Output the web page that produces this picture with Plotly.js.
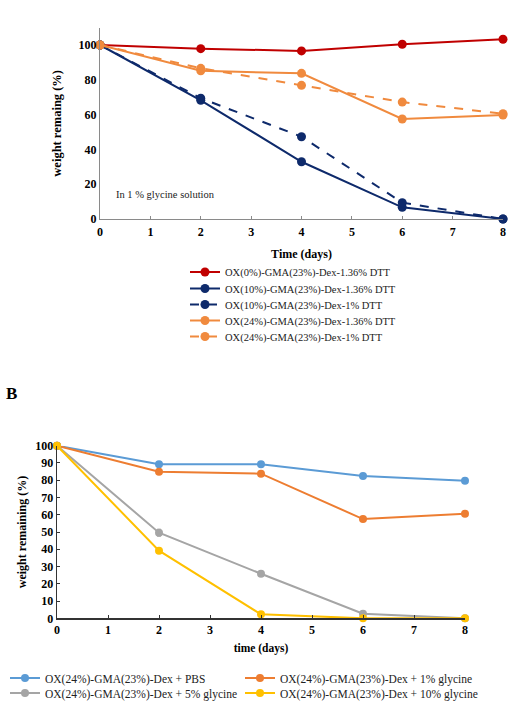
<!DOCTYPE html>
<html>
<head>
<meta charset="utf-8">
<script src="https://cdn.plot.ly/plotly-3.0.1.min.js"></script>
<style>html,body{margin:0;padding:0;background:#fff}#chart{width:515px;height:701px}</style>
</head>
<body>
<div id="chart"></div>
<script>
// ---------- Panel A data ----------
const daysA = [0, 2, 4, 6, 8];
const namesA = [
  "OX(0%)-GMA(23%)-Dex-1.36% DTT",
  "OX(10%)-GMA(23%)-Dex-1.36% DTT",
  "OX(10%)-GMA(23%)-Dex-1% DTT",
  "OX(24%)-GMA(23%)-Dex-1.36% DTT",
  "OX(24%)-GMA(23%)-Dex-1% DTT"
];
const ox0_136 = [100, 97.9, 96.6, 100.4, 103.3];
const ox10_136 = [100, 68.2, 32.9, 6.7, 0];
const ox10_1 = [100, 69.4, 47.3, 9.4, 0];
const ox24_136 = [100, 85.2, 83.7, 57.5, 59.8];
const ox24_1 = [100, 86.6, 76.8, 67.2, 60.5];
const xTicksA = [0, 1, 2, 3, 4, 5, 6, 7, 8];
const yTicksA = [0, 20, 40, 60, 80, 100];

// ---------- Panel B data ----------
const daysB = [0, 2, 4, 6, 8];
const namesB = [
  "OX(24%)-GMA(23%)-Dex + PBS",
  "OX(24%)-GMA(23%)-Dex + 1% glycine",
  "OX(24%)-GMA(23%)-Dex + 5% glycine",
  "OX(24%)-GMA(23%)-Dex + 10% glycine"
];
const pbs = [100, 89.2, 89.2, 82.4, 79.7];
const gly1 = [100, 84.9, 83.8, 57.5, 60.6];
const gly5 = [100, 49.6, 25.8, 2.7, 0];
const gly5err = [0, 2, 0.8, 0, 0];
const gly10 = [100, 39.2, 2.3, 0, 0];
const xTicksB = [0, 1, 2, 3, 4, 5, 6, 7, 8];
const yTicksB = [0, 10, 20, 30, 40, 50, 60, 70, 80, 90, 100];

const W = 515, H = 701;
const px = v => v / W;
const py = v => 1 - v / H;
const SERIF = "Liberation Serif, Times New Roman, serif";

const colA = ["#C00000", "#0E2A6B", "#0E2A6B", "#F08A3E", "#F08A3E"];
const dashA = ["solid", "solid", "dash", "solid", "dash"];
const seriesA = [ox0_136, ox10_136, ox10_1, ox24_136, ox24_1];
// legend entry positions (pixels)
const legYA = [272, 288.5, 304.5, 320.5, 336.5];
const legB = [[5, 678], [240, 678], [5, 693], [240, 693]];

const traces = [];
const legends = {};
seriesA.forEach((ys, i) => {
  const lid = i === 0 ? "legend" : "legend" + (i + 1);
  traces.push({
    x: daysA, y: ys, name: namesA[i], type: "scatter", mode: "lines+markers",
    xaxis: "x", yaxis: "y", legend: lid, showlegend: true, cliponaxis: false,
    line: {color: colA[i], width: 2, dash: dashA[i]},
    marker: {color: colA[i], size: 9}
  });
  legends[lid] = {
    visible: true,
    x: px(185), y: py(legYA[i]), xanchor: "left", yanchor: "middle",
    bgcolor: "rgba(0,0,0,0)", borderwidth: 0,
    font: {family: SERIF, size: 10.5, color: "#222"}, itemwidth: 30
  };
});

const colB = ["#5B9BD5", "#ED7D31", "#A5A5A5", "#FFC000"];
const seriesB = [pbs, gly1, gly5, gly10];
seriesB.forEach((ys, i) => {
  const lid = "legend" + (i + 6);
  const t = {
    x: daysB, y: ys, name: namesB[i], type: "scatter", mode: "lines+markers",
    xaxis: "x2", yaxis: "y2", legend: lid, showlegend: true, cliponaxis: false,
    line: {color: colB[i], width: 2},
    marker: {color: colB[i], size: 8}
  };
  if (i === 2) t.error_y = {type: "data", array: gly5err, visible: true, color: colB[i], thickness: 1, width: 2};
  traces.push(t);
  legends[lid] = {
    visible: true,
    x: px(legB[i][0]), y: py(legB[i][1]), xanchor: "left", yanchor: "middle",
    bgcolor: "rgba(0,0,0,0)", borderwidth: 0,
    font: {family: SERIF, size: 11.5, color: "#222"}, itemwidth: 30
  };
});

const tickFont = {family: SERIF, size: 12, color: "#000", weight: "bold"};

const layout = Object.assign({
  width: W, height: H, showlegend: true,
  margin: {l: 0, r: 0, t: 0, b: 0, autoexpand: false},
  paper_bgcolor: "#fff", plot_bgcolor: "rgba(0,0,0,0)",
  font: {family: SERIF, color: "#000"},
  xaxis: {
    domain: [px(100), px(503)], range: [0, 8], anchor: "y",
    tickvals: xTicksA, ticktext: xTicksA.map(String),
    showgrid: false, zeroline: false, showline: true, linecolor: "#8a8a8a", linewidth: 1,
    ticks: "inside", ticklen: 3, tickcolor: "#8a8a8a", tickfont: tickFont, ticklabelstandoff: 2,
    title: {text: "Time (days)", font: {family: SERIF, size: 12, weight: "bold", color: "#000"}, standoff: 11}
  },
  yaxis: {
    domain: [py(219), py(27.6)], range: [0, 110], anchor: "x",
    tickvals: yTicksA, ticktext: yTicksA.map(String),
    showgrid: false, zeroline: false, showline: true, linecolor: "#8a8a8a", linewidth: 1,
    ticks: "", tickfont: tickFont,
    title: {text: "weight remaing (%)", font: {family: SERIF, size: 12.5, weight: "bold", color: "#000"}, standoff: 14}
  },
  xaxis2: {
    domain: [px(57), px(465)], range: [0, 8], anchor: "y2",
    tickvals: xTicksB, ticktext: xTicksB.map(String),
    showgrid: false, zeroline: false, showline: true, linecolor: "#333", linewidth: 1.3,
    ticks: "inside", ticklen: 3, tickcolor: "#333", tickfont: tickFont,
    title: {text: "time (days)", font: {family: SERIF, size: 11.5, weight: "bold", color: "#000"}, standoff: 8}
  },
  yaxis2: {
    domain: [py(618.3), py(445.7)], range: [0, 100], anchor: "x2",
    tickvals: yTicksB, ticktext: yTicksB.map(String),
    showgrid: false, zeroline: false, showline: true, linecolor: "#333", linewidth: 1.3,
    ticks: "inside", ticklen: 3, tickcolor: "#333", tickfont: tickFont,
    title: {text: "weight remaining (%)", font: {family: SERIF, size: 12, weight: "bold", color: "#000"}, standoff: 6}
  },
  annotations: [
    {text: "In 1 % glycine solution", xref: "x", yref: "y", x: 0.28, y: 13.8,
     xanchor: "left", yanchor: "middle", showarrow: false,
     font: {family: SERIF, size: 10.5, color: "#222"}},
    {text: "<b>B</b>", xref: "paper", yref: "paper", x: px(4), y: py(393),
     xanchor: "left", yanchor: "middle", showarrow: false,
     font: {family: SERIF, size: 17, color: "#000"}}
  ]
}, legends);

Plotly.newPlot("chart", traces, layout, {displayModeBar: false, staticPlot: true});
</script>
</body>
</html>
